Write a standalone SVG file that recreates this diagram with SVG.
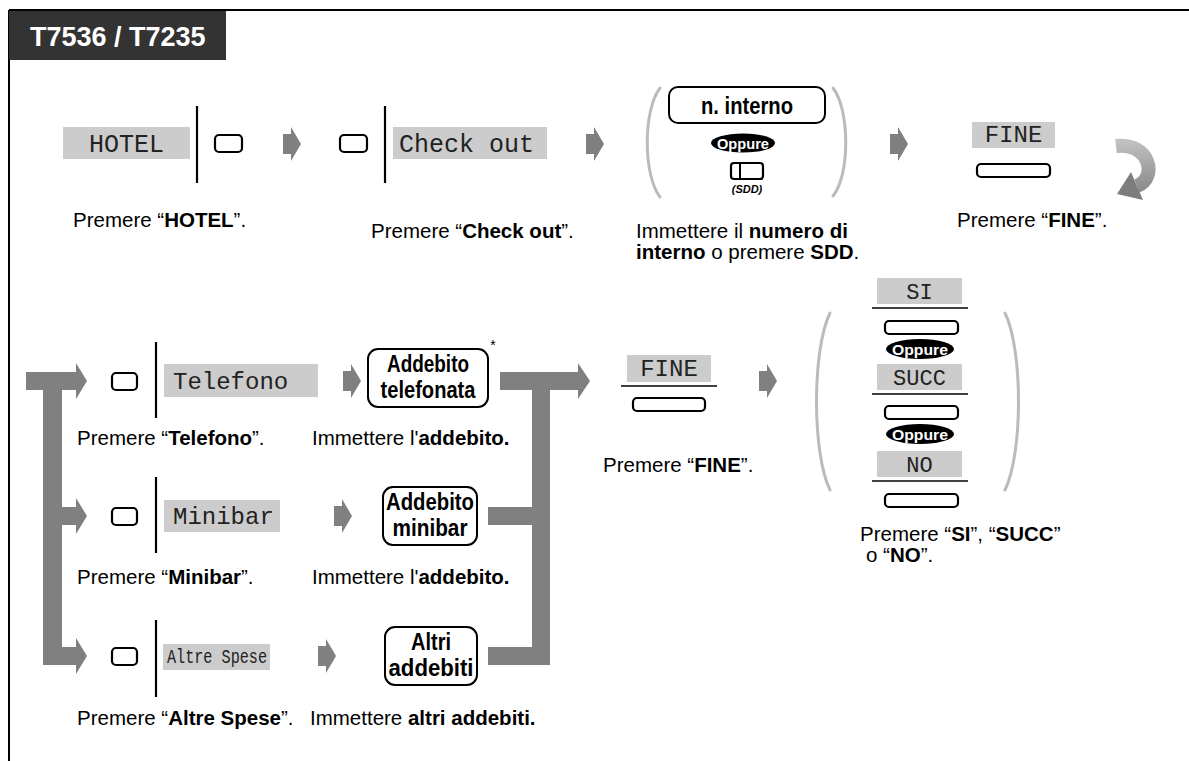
<svg xmlns="http://www.w3.org/2000/svg" xmlns:xlink="http://www.w3.org/1999/xlink" width="1189" height="761" viewBox="0 0 1189 761">
<style>
.cap{font-family:"Liberation Sans",Arial,sans-serif;font-size:20.5px;fill:#000}
.b{font-weight:bold}
.mono{font-family:"Liberation Mono","Courier New",monospace;fill:#222}
.lcd{fill:#cccccc}
.key{fill:#fff;stroke:#000;stroke-width:2.2}
.par{fill:none;stroke:#bbbbbb;stroke-width:3;stroke-linecap:round}
.arr{fill:#808080}
.btn{fill:#fff;stroke:#000;stroke-width:2}
.bt{font-family:"Liberation Sans",Arial,sans-serif;font-weight:bold;font-size:23px;text-anchor:middle;fill:#000}
.ot{font-family:"Liberation Sans",Arial,sans-serif;font-weight:bold;font-size:15px;text-anchor:middle;fill:#fff}
.vl{stroke:#000;stroke-width:2.2}
.ul{stroke:#000;stroke-width:1.5}
</style>
<defs>
<path id="sa" class="arr" d="M0,-10 H8 V-17 L18,0 L8,17 V10 H0 Z"/>
<linearGradient id="cg" x1="0" y1="138" x2="0" y2="205" gradientUnits="userSpaceOnUse">
<stop offset="0" stop-color="#c4c4c4"/><stop offset="1" stop-color="#7a7a7a"/>
</linearGradient>
</defs>
<rect width="1189" height="761" fill="#fff"/>
<g id="frame">
<line x1="9" y1="10" x2="1189" y2="10" stroke="#000" stroke-width="2"/>
<line x1="9" y1="10" x2="9" y2="761" stroke="#000" stroke-width="2"/>
</g>
<g id="title">
<rect x="9" y="11" width="217" height="49" fill="#333333"/>
<text x="30" y="46" font-family="Liberation Sans, Arial, sans-serif" font-weight="bold" font-size="27" fill="#fff">T7536 / T7235</text>
</g>
<g id="connectors">
<use href="#sa" x="283" y="144"/>
<use href="#sa" x="586" y="144"/>
<use href="#sa" x="890" y="144"/>
<use href="#sa" x="343" y="381"/>
<use href="#sa" x="334" y="516"/>
<use href="#sa" x="318" y="656"/>
<use href="#sa" x="759" y="381"/>
<path class="arr" d="M26,372 H76 V363 L87,381 L76,399 V390 H62 V507 H76 V498 L87,516 L76,534 V525 H62 V647 H76 V638 L87,656 L76,674 V665 H43 V390 H26 Z"/>
<path class="arr" d="M500,372 H578 V363 L590,381 L578,399 V390 H550 V665 H488 V647 H532 V525 H488 V507 H532 V390 H500 Z"/>
<path d="M1116,146 C1150,142 1158,178 1137,186" fill="none" stroke="url(#cg)" stroke-width="14"/>
<polygon points="1131,172 1143,200 1117,194" fill="#7d7d7d"/>
</g>
<g id="hotel">
<rect class="lcd" x="63" y="127" width="127" height="32"/>
<text class="mono" x="126.5" y="152" font-size="25" text-anchor="middle">HOTEL</text>
<line class="vl" x1="197" y1="106" x2="197" y2="183"/>
<rect class="key" x="215" y="135" width="27" height="17" rx="4"/>
<text class="cap" x="73" y="227">Premere “<tspan class="b">HOTEL</tspan>”.</text>
</g>
<g id="checkout">
<rect class="key" x="340" y="135" width="27" height="17" rx="4"/>
<line class="vl" x1="385" y1="106" x2="385" y2="183"/>
<rect class="lcd" x="393" y="127" width="154" height="32"/>
<text class="mono" x="399" y="152" font-size="25">Check out</text>
<text class="cap" x="371" y="238">Premere “<tspan class="b">Check out</tspan>”.</text>
</g>
<g id="interno">
<path class="par" d="M660,88 C643,110 643,175 660,197"/>
<path class="par" d="M833,88 C850,110 850,175 833,196"/>
<rect class="btn" x="669" y="87" width="156" height="36" rx="9"/>
<text class="bt" x="747" y="114" textLength="92" lengthAdjust="spacingAndGlyphs">n. interno</text>
<ellipse cx="743" cy="143" rx="32" ry="9.5" fill="#000"/>
<text class="ot" x="743" y="148.5" textLength="52" lengthAdjust="spacingAndGlyphs">Oppure</text>
<rect class="key" x="731" y="163" width="32" height="16" rx="3"/>
<line x1="740" y1="163" x2="740" y2="179" stroke="#000" stroke-width="2"/>
<text x="747" y="193" font-family="Liberation Sans, Arial, sans-serif" font-weight="bold" font-style="italic" font-size="11" text-anchor="middle">(SDD)</text>
<text class="cap" x="636" y="238">Immettere il <tspan class="b">numero di</tspan></text>
<text class="cap" x="636" y="259"><tspan class="b">interno</tspan> o premere <tspan class="b">SDD</tspan>.</text>
</g>
<g id="fine1">
<rect class="lcd" x="972" y="122" width="83" height="26"/>
<text class="mono" x="1013.5" y="142" font-size="24" text-anchor="middle">FINE</text>
<rect class="key" x="977" y="164" width="73" height="13" rx="4"/>
<text class="cap" x="957" y="227">Premere “<tspan class="b">FINE</tspan>”.</text>
</g>
<g id="telefono">
<rect class="key" x="112" y="373" width="25" height="17" rx="4"/>
<line class="vl" x1="156" y1="342" x2="156" y2="418"/>
<rect class="lcd" x="164" y="364" width="154" height="33"/>
<text class="mono" x="173" y="389" font-size="24">Telefono</text>
<text class="cap" x="77" y="445">Premere “<tspan class="b">Telefono</tspan>”.</text>
</g>
<g id="addebito-telefonata">
<rect class="btn" x="368" y="349" width="120" height="58" rx="10"/>
<text class="bt" x="428" y="372" textLength="82" lengthAdjust="spacingAndGlyphs">Addebito</text>
<text class="bt" x="428" y="398" textLength="95" lengthAdjust="spacingAndGlyphs">telefonata</text>
<text x="493" y="350" font-family="Liberation Sans, Arial, sans-serif" font-size="14" text-anchor="middle">*</text>
<text class="cap" x="312" y="445">Immettere l'<tspan class="b">addebito.</tspan></text>
</g>
<g id="minibar">
<rect class="key" x="112" y="508" width="25" height="17" rx="4"/>
<line class="vl" x1="156" y1="477" x2="156" y2="553"/>
<rect class="lcd" x="164" y="500" width="116" height="32"/>
<text class="mono" x="173" y="524" font-size="24">Minibar</text>
<text class="cap" x="77" y="584">Premere “<tspan class="b">Minibar</tspan>”.</text>
</g>
<g id="addebito-minibar">
<rect class="btn" x="383" y="487" width="94" height="58" rx="10"/>
<text class="bt" x="430" y="510" textLength="88" lengthAdjust="spacingAndGlyphs">Addebito</text>
<text class="bt" x="430" y="536" textLength="75" lengthAdjust="spacingAndGlyphs">minibar</text>
<text class="cap" x="312" y="584">Immettere l'<tspan class="b">addebito.</tspan></text>
</g>
<g id="altre-spese">
<rect class="key" x="112" y="648" width="25" height="17" rx="4"/>
<line class="vl" x1="156" y1="620" x2="156" y2="697"/>
<rect class="lcd" x="163" y="644" width="107" height="26"/>
<text class="mono" x="167" y="663" font-size="20" textLength="100" lengthAdjust="spacingAndGlyphs">Altre Spese</text>
<text class="cap" x="77" y="725">Premere “<tspan class="b">Altre Spese</tspan>”.</text>
</g>
<g id="altri-addebiti">
<rect class="btn" x="385" y="627" width="92" height="58" rx="10"/>
<text class="bt" x="431" y="650" textLength="40" lengthAdjust="spacingAndGlyphs">Altri</text>
<text class="bt" x="431" y="676" textLength="85" lengthAdjust="spacingAndGlyphs">addebiti</text>
<text class="cap" x="310" y="725">Immettere <tspan class="b">altri addebiti.</tspan></text>
</g>
<g id="fine2">
<rect class="lcd" x="627" y="355" width="84" height="27"/>
<text class="mono" x="669" y="376" font-size="24" text-anchor="middle">FINE</text>
<line class="ul" x1="621" y1="386" x2="717" y2="386"/>
<rect class="key" x="633" y="398" width="72" height="13" rx="4"/>
<text class="cap" x="603" y="472">Premere “<tspan class="b">FINE</tspan>”.</text>
</g>
<g id="si-succ-no">
<path class="par" d="M830,313 C812,350 812,453 830,490"/>
<path class="par" d="M1005,313 C1023,350 1023,453 1005,490"/>
<rect class="lcd" x="877" y="278" width="85" height="26"/>
<text class="mono" x="919.5" y="299" font-size="22" text-anchor="middle">SI</text>
<line class="ul" x1="872" y1="308" x2="968" y2="308"/>
<rect class="key" x="885" y="321" width="73" height="13" rx="4"/>
<ellipse cx="920" cy="349" rx="34" ry="10" fill="#000"/>
<text class="ot" x="920" y="354.5" textLength="56" lengthAdjust="spacingAndGlyphs">Oppure</text>
<rect class="lcd" x="877" y="364" width="85" height="26"/>
<text class="mono" x="919.5" y="385" font-size="22" text-anchor="middle">SUCC</text>
<line class="ul" x1="872" y1="394" x2="968" y2="394"/>
<rect class="key" x="885" y="406" width="73" height="13" rx="4"/>
<ellipse cx="920" cy="434" rx="34" ry="10" fill="#000"/>
<text class="ot" x="920" y="439.5" textLength="56" lengthAdjust="spacingAndGlyphs">Oppure</text>
<rect class="lcd" x="877" y="451" width="85" height="26"/>
<text class="mono" x="919.5" y="472" font-size="22" text-anchor="middle">NO</text>
<line class="ul" x1="872" y1="481" x2="968" y2="481"/>
<rect class="key" x="885" y="494" width="73" height="13" rx="4"/>
<text class="cap" x="860" y="541">Premere “<tspan class="b">SI</tspan>”, “<tspan class="b">SUCC</tspan>”</text>
<text class="cap" x="866" y="562">o “<tspan class="b">NO</tspan>”.</text>
</g>
</svg>
